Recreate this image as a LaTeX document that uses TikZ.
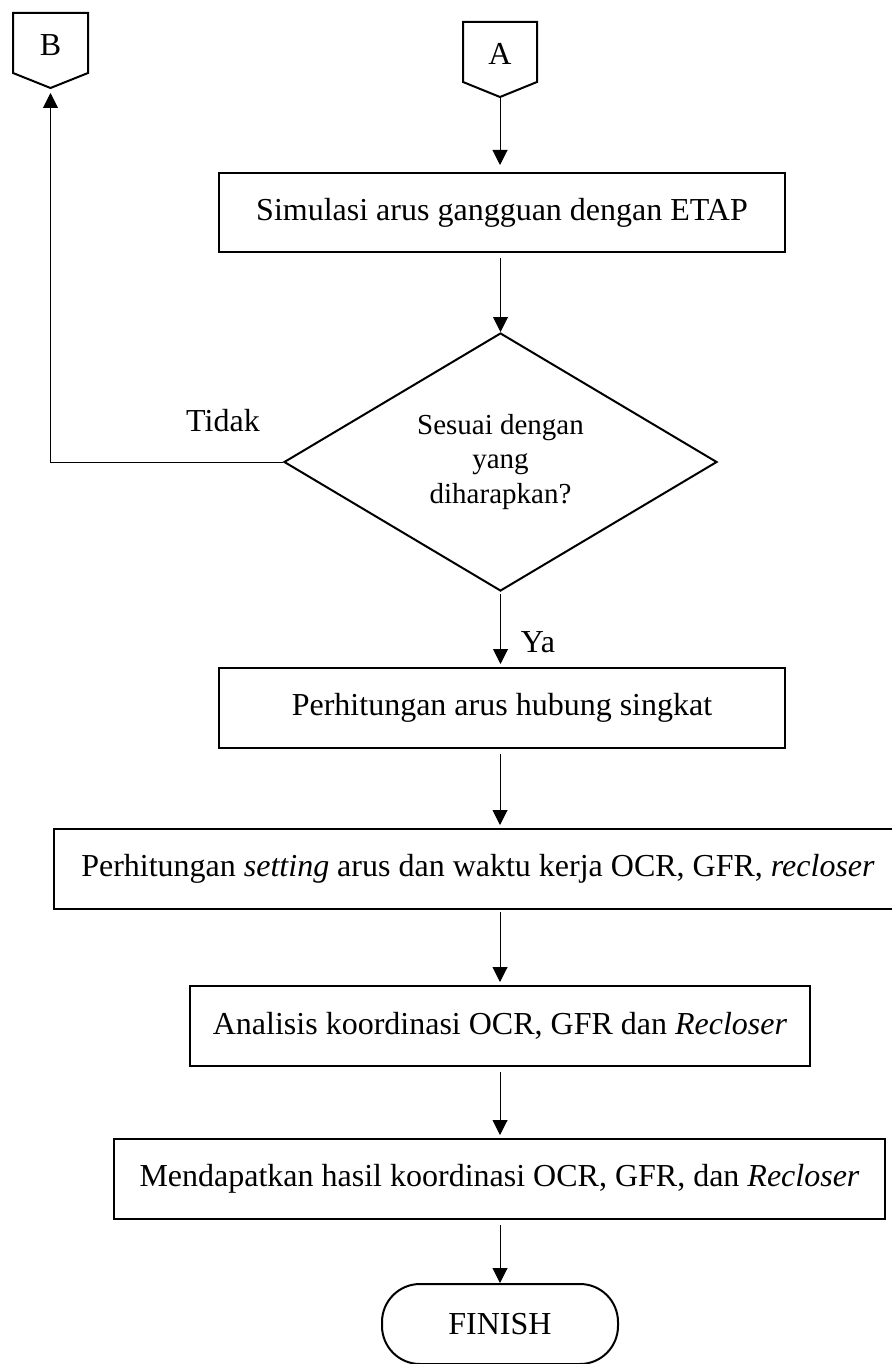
\documentclass[tikz,border=0pt]{standalone}
\usepackage{fontspec}
\setmainfont{Liberation Serif}
\usetikzlibrary{arrows.meta,shapes.geometric}
\begin{document}
\begin{tikzpicture}[x=1pt,y=-1pt,
  box/.style={draw, line width=2pt, inner sep=0pt, font=\fontsize{32}{38}\selectfont},
  conn/.style={line width=1pt},
  arr/.style={conn, -{Triangle[length=15pt,width=15pt]}},
  lbl/.style={font=\fontsize{32}{38}\selectfont, inner sep=0pt},
  conbox/.style={line width=2pt, line join=miter}]
\useasboundingbox (0,0) rectangle (891,1364);
% off-page connectors
\draw[conbox] (13,13) -- (88,13) -- (88,73) -- (50.5,88) -- (13,73) -- cycle;
\node[lbl] (B) at (50.5,45) {B};
\coordinate (Bp) at (50.5,88);
\draw[conbox] (463,22) -- (537,22) -- (537,82) -- (500,97) -- (463,82) -- cycle;
\node[lbl] (A) at (500,54) {A};
\coordinate (Ap) at (500,97);
% process boxes
\node[box, minimum width=566, minimum height=79] (sim) at (502,212.5) {Simulasi arus gangguan dengan ETAP};
\node[diamond, draw, line width=2pt, aspect=1.68, minimum width=433, minimum height=258, inner sep=0pt, align=center, font=\fontsize{29}{34.5}\selectfont] (dec) at (500.5,462) {Sesuai dengan\\yang\\diharapkan?};
\node[box, minimum width=566, minimum height=80] (perh) at (502,708) {Perhitungan arus hubung singkat};
\node[box, minimum width=848, minimum height=80] (set) at (478,869) {Perhitungan \textit{setting} arus dan waktu kerja OCR, GFR, \textit{recloser}};
\node[box, minimum width=620, minimum height=80] (ana) at (500,1026) {Analisis koordinasi OCR, GFR dan \textit{Recloser}};
\node[box, minimum width=771, minimum height=80] (mend) at (499.5,1179) {Mendapatkan hasil koordinasi OCR, GFR, dan \textit{Recloser}};
\node[draw, line width=2pt, rounded corners=38pt, minimum width=236, minimum height=80, inner sep=0pt, font=\fontsize{32}{38}\selectfont] (fin) at (500,1324) {FINISH};
% labels
\node[lbl] (tidak) at (223,421) {Tidak};
\node[lbl] (ya) at (538,642) {Ya};
% connectors
\coordinate (col) at (500,0);
\draw[arr, shorten >=7pt] (Ap) -- (Ap |- sim.north);
\draw[arr, shorten <=5pt] (dec.north |- sim.south) -- (dec.north);
\draw[arr, shorten <=2pt, shorten >=3pt] (dec.south) -- (dec.south |- perh.north);
\draw[arr, shorten <=5pt, shorten >=3pt] (perh.south -| col) -- (set.north -| col);
\draw[arr, shorten <=2pt, shorten >=3pt] (set.south -| col) -- (ana.north -| col);
\draw[arr, shorten <=5pt, shorten >=3pt] (ana.south -| col) -- (mend.north -| col);
\draw[arr, shorten <=5pt] (fin.north |- mend.south) -- (fin.north);
\draw[arr, shorten >=5pt] (dec.west) -| (Bp);
\end{tikzpicture}
\end{document}
